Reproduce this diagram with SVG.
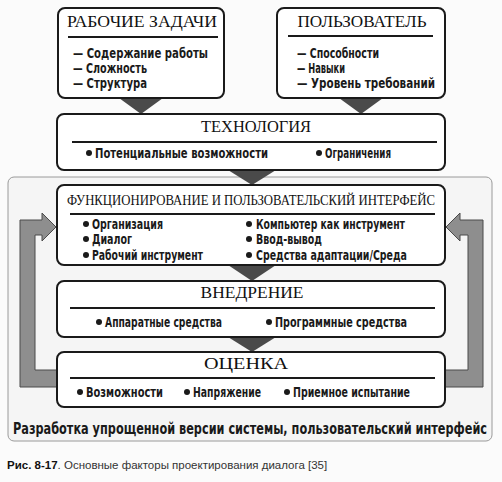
<svg xmlns="http://www.w3.org/2000/svg" width="502" height="482" viewBox="0 0 502 482">
<style>
.box{fill:#fff;stroke:#1a1a1a;stroke-width:2}
.rule{stroke:#1a1a1a;stroke-width:1.8}
.ttl{font-family:"Liberation Serif","Times New Roman",serif;font-size:16px;fill:#111;text-anchor:middle}
.it{font-family:"Liberation Sans Narrow","DejaVu Sans Condensed","Liberation Sans",sans-serif;font-stretch:condensed;font-weight:bold;font-size:14px;fill:#1a1a1a}
.dot{fill:#1a1a1a}
.tri{fill:#4a4a4a}
.big{fill:#8e8e8e;stroke:#4a4a4a;stroke-width:1}
.cap{font-family:"Liberation Sans",Arial,sans-serif;font-size:11.5px;fill:#333}
</style>
<rect width="502" height="482" fill="#fbfbfb"/>
<g id="frame">
<rect x="8" y="177" width="484" height="264" rx="6" fill="#f5f5f5" stroke="#9a9a9a" stroke-width="1"/>
<text class="it" x="13" y="434" style="font-size:16px" textLength="474" lengthAdjust="spacingAndGlyphs">Разработка упрощенной версии системы, пользовательский интерфейс</text>
</g>
<g id="connectors">
<polygon class="tri" points="119,98 163,98 141,114"/>
<polygon class="tri" points="339,98 383,98 361,114"/>
<polygon class="tri" points="228,170 276,170 252,185"/>
<polygon class="tri" points="228,265 276,265 252,281"/>
<polygon class="tri" points="228,337 276,337 252,352"/>
<polygon class="big" points="57,370 35,370 35,235 42,235 42,241 56,227 42,213 42,220 20,220 20,387 57,387"/>
<polygon class="big" points="445,370 468,370 468,235 460,235 460,241 446,227 460,213 460,220 483,220 483,387 445,387"/>
</g>
<g id="tasks">
<rect class="box" x="58" y="8" width="166" height="90" rx="7"/>
<text class="ttl" x="142" y="27" textLength="150" lengthAdjust="spacingAndGlyphs">РАБОЧИЕ ЗАДАЧИ</text>
<line class="rule" x1="68" y1="37" x2="218" y2="37"/>
<text class="it" x="73" y="58" textLength="135" lengthAdjust="spacingAndGlyphs">— Содержание работы</text>
<text class="it" x="73" y="73" textLength="74" lengthAdjust="spacingAndGlyphs">— Сложность</text>
<text class="it" x="73" y="88" textLength="74" lengthAdjust="spacingAndGlyphs">— Структура</text>
</g>
<g id="user">
<rect class="box" x="277" y="8" width="168" height="90" rx="7"/>
<text class="ttl" x="362" y="27" textLength="129" lengthAdjust="spacingAndGlyphs">ПОЛЬЗОВАТЕЛЬ</text>
<line class="rule" x1="288" y1="36" x2="433" y2="36"/>
<text class="it" x="297" y="58" textLength="82" lengthAdjust="spacingAndGlyphs">— Способности</text>
<text class="it" x="297" y="73" textLength="48" lengthAdjust="spacingAndGlyphs">— Навыки</text>
<text class="it" x="297" y="88" textLength="138" lengthAdjust="spacingAndGlyphs">— Уровень требований</text>
</g>
<g id="technology">
<rect class="box" x="57" y="114" width="388" height="56" rx="7"/>
<text class="ttl" x="256" y="132" textLength="110" lengthAdjust="spacingAndGlyphs">ТЕХНОЛОГИЯ</text>
<line class="rule" x1="72" y1="142" x2="437" y2="142"/>
<circle class="dot" cx="89" cy="153" r="3"/>
<text class="it" x="95" y="158" textLength="173" lengthAdjust="spacingAndGlyphs">Потенциальные возможности</text>
<circle class="dot" cx="319" cy="153" r="3"/>
<text class="it" x="325" y="158" textLength="66" lengthAdjust="spacingAndGlyphs">Ограничения</text>
</g>
<g id="function">
<rect class="box" x="57" y="185" width="388" height="80" rx="7"/>
<text class="ttl" x="251" y="205" style="font-size:14px" textLength="368" lengthAdjust="spacingAndGlyphs">ФУНКЦИОНИРОВАНИЕ И ПОЛЬЗОВАТЕЛЬСКИЙ ИНТЕРФЕЙС</text>
<line class="rule" x1="70" y1="214" x2="435" y2="214"/>
<circle class="dot" cx="86" cy="224" r="3"/>
<text class="it" x="92" y="229" textLength="71" lengthAdjust="spacingAndGlyphs">Организация</text>
<circle class="dot" cx="86" cy="239" r="3"/>
<text class="it" x="92" y="244" textLength="40" lengthAdjust="spacingAndGlyphs">Диалог</text>
<circle class="dot" cx="86" cy="255" r="3"/>
<text class="it" x="92" y="260" textLength="111" lengthAdjust="spacingAndGlyphs">Рабочий инструмент</text>
<circle class="dot" cx="249" cy="224" r="3"/>
<text class="it" x="256" y="229" textLength="149" lengthAdjust="spacingAndGlyphs">Компьютер как инструмент</text>
<circle class="dot" cx="249" cy="239" r="3"/>
<text class="it" x="256" y="244" textLength="66" lengthAdjust="spacingAndGlyphs">Ввод-вывод</text>
<circle class="dot" cx="249" cy="255" r="3"/>
<text class="it" x="256" y="260" textLength="151" lengthAdjust="spacingAndGlyphs">Средства адаптации/Среда</text>
</g>
<g id="implementation">
<rect class="box" x="57" y="281" width="388" height="56" rx="7"/>
<text class="ttl" x="252" y="298" textLength="103" lengthAdjust="spacingAndGlyphs">ВНЕДРЕНИЕ</text>
<line class="rule" x1="70" y1="308" x2="435" y2="308"/>
<circle class="dot" cx="99" cy="322" r="3"/>
<text class="it" x="105" y="327" textLength="117" lengthAdjust="spacingAndGlyphs">Аппаратные средства</text>
<circle class="dot" cx="269" cy="322" r="3"/>
<text class="it" x="275" y="327" textLength="132" lengthAdjust="spacingAndGlyphs">Программные средства</text>
</g>
<g id="evaluation">
<rect class="box" x="57" y="352" width="388" height="55" rx="7"/>
<text class="ttl" x="246" y="369" textLength="84" lengthAdjust="spacingAndGlyphs">ОЦЕНКА</text>
<line class="rule" x1="70" y1="378" x2="435" y2="378"/>
<circle class="dot" cx="80" cy="392" r="3"/>
<text class="it" x="86" y="397" textLength="77" lengthAdjust="spacingAndGlyphs">Возможности</text>
<circle class="dot" cx="187" cy="392" r="3"/>
<text class="it" x="193" y="397" textLength="68" lengthAdjust="spacingAndGlyphs">Напряжение</text>
<circle class="dot" cx="287" cy="392" r="3"/>
<text class="it" x="293" y="397" textLength="117" lengthAdjust="spacingAndGlyphs">Приемное испытание</text>
</g>
<g id="caption">
<text class="cap" x="7" y="469"><tspan font-weight="bold" fill="#111">Рис. 8-17</tspan>. Основные факторы проектирования диалога [35]</text>
</g>
</svg>
